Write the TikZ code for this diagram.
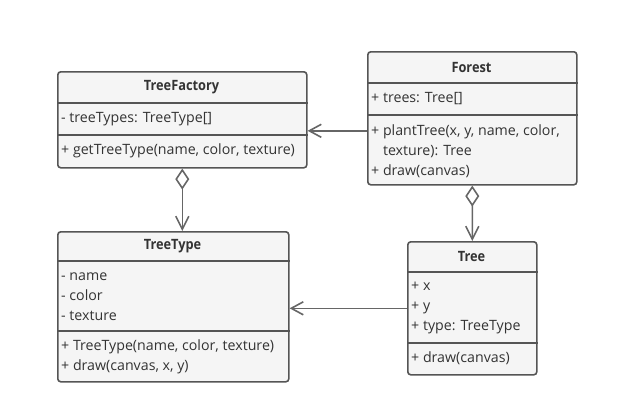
\documentclass[tikz,border=0pt]{standalone}
\usepackage{fontspec}
\setmainfont{Open Sans}
\newfontfamily\headfont{Open Sans}[FakeStretch=0.9]
\usetikzlibrary{arrows.meta}
\definecolor{linec}{HTML}{555555}
\definecolor{connc}{HTML}{666666}
\definecolor{boxfill}{HTML}{F5F5F5}
\definecolor{textc}{HTML}{333333}
\tikzset{
  box/.style={draw=linec, fill=boxfill, line width=1.6bp, rounded corners=3bp,
    inner sep=0pt, anchor=north west},
  divl/.style={draw=linec, line width=1.4bp},
  txt/.style={anchor=west, inner sep=0pt, text=textc, align=left,
    font=\fontsize{14.2bp}{20bp}\selectfont},
  head/.style={inner sep=0pt, text=textc, font=\headfont\fontsize{14.2bp}{20bp}\selectfont\bfseries},
  conn/.style={draw=connc, line width=1.6bp},
  assoc/.style={conn, -{Straight Barb[length=12bp, width=13bp, line width=1.6bp]}},
  aggr/.style={conn, {Diamond[open, length=21bp, width=14bp, line width=1.6bp, fill=white]}-{Straight Barb[length=13bp, width=13bp, line width=1.6bp]}},
}
\begin{document}
\begin{tikzpicture}[x=1bp, y=-1bp]
\useasboundingbox (0,0) rectangle (642,406);

% TreeFactory
\node[box, minimum width=249bp, minimum height=96bp] (tf) at (57,71) {};
\draw[divl] ([yshift=-32bp]tf.north west) -- ([yshift=-32bp]tf.north east);
\draw[divl] ([yshift=-64bp]tf.north west) -- ([yshift=-64bp]tf.north east);
\node[head] (tf-h) at (181.5,87) {TreeFactory};
\node[txt] (tf-a) at (61,119) {- treeTypes: TreeType[]};
\node[txt] (tf-o) at (61,151) {+ getTreeType(name, color, texture)};

% Forest
\node[box, minimum width=209bp, minimum height=133bp] (forest) at (367,51) {};
\draw[divl] ([yshift=-32bp]forest.north west) -- ([yshift=-32bp]forest.north east);
\draw[divl] ([yshift=-64bp]forest.north west) -- ([yshift=-64bp]forest.north east);
\node[head] (forest-h) at (471.5,67) {Forest};
\node[txt] (forest-a) at (371,99) {+ trees: Tree[]};
\node[txt] (forest-o) at (371,151) {+ plantTree(x, y, name, color,\\\phantom{+ }texture): Tree\\+ draw(canvas)};

% TreeType
\node[box, minimum width=231bp, minimum height=150bp] (tt) at (57,231) {};
\draw[divl] ([yshift=-30bp]tt.north west) -- ([yshift=-30bp]tt.north east);
\draw[divl] ([yshift=-100bp]tt.north west) -- ([yshift=-100bp]tt.north east);
\node[head] (tt-h) at (172.5,246) {TreeType};
\node[txt] (tt-a) at (61,297) {- name\\- color\\- texture};
\node[txt] (tt-o) at (61,357) {+ TreeType(name, color, texture)\\+ draw(canvas, x, y)};

% Tree
\node[box, minimum width=129bp, minimum height=133bp] (tree) at (407,241) {};
\draw[divl] ([yshift=-31bp]tree.north west) -- ([yshift=-31bp]tree.north east);
\draw[divl] ([yshift=-102bp]tree.north west) -- ([yshift=-102bp]tree.north east);
\node[head] (tree-h) at (471.5,256) {Tree};
\node[txt] (tree-a) at (411,308) {+ x\\+ y\\+ type: TreeType};
\node[txt] (tree-o) at (411,358) {+ draw(canvas)};

% Connectors
\coordinate (fa) at ([yshift=-12.5bp]forest.west);
\draw[assoc] (fa) -- (tf.east |- fa);
\draw[aggr] (tf.south) -- (tf.south |- tt.north);
\draw[aggr] (forest.south) -- (tree.north);
\draw[assoc] (tree.west) -- (tree.west -| tt.east);
\end{tikzpicture}
\end{document}
